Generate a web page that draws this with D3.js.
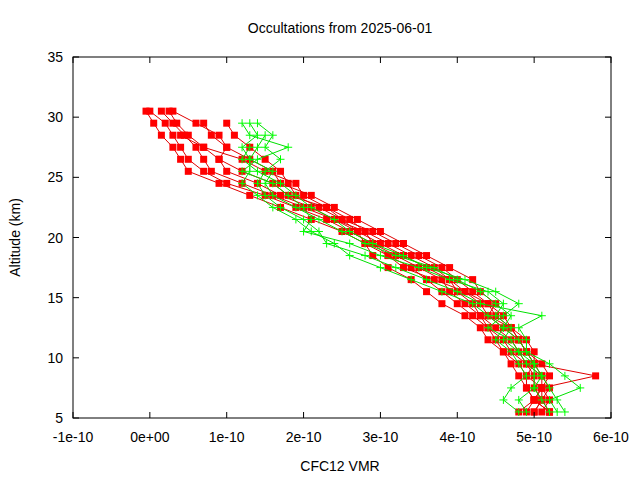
<!DOCTYPE html>
<html><head><meta charset="utf-8">
<script src="https://cdn.jsdelivr.net/npm/d3@7"></script>
<style>body{margin:0;background:#fff}text{font-family:"Liberation Sans",Arial,sans-serif;font-size:14px}</style>
</head><body><svg id="chart" width="640" height="480"></svg>
<script>
// Altitudes (km) for each profile family
var redAlt = d3.range(30.5, 5, -1);
var greenAlt = d3.range(29.5, 5, -1);

// CFC12 VMR values, units of 1e-10, listed top to bottom
var red1 = [-0.05,0.05,0.15,0.3,0.4,0.5,0.9,1.3,1.7,2.1,2.5,2.8,3.1,3.4,3.6,3.8,4.0,4.2,4.4,4.5,4.6,4.7,4.8,4.9,5.0,4.9];
var red2 = [0.0,0.2,0.3,0.4,0.5,0.7,1.0,1.5,1.9,2.3,2.6,2.9,3.2,3.5,3.8,3.9,4.1,4.3,4.4,4.6,4.7,4.9,5.0,5.0,5.1,5.0];
var red3 = [0.15,0.3,0.45,0.6,0.7,0.8,1.2,1.6,2.0,2.4,2.7,3.0,3.3,3.6,3.9,4.0,4.2,4.3,4.5,4.7,4.8,4.9,5.1,5.1,5.2,5.1];
var red4 = [0.3,0.6,0.9,1.0,0.9,1.0,1.4,1.7,2.1,2.4,2.8,3.1,3.4,3.7,3.9,4.1,4.3,4.4,4.6,4.8,4.9,5.0,5.1,5.2,5.1,5.2];
var red5 = [null,1.0,1.1,1.3,1.5,1.7,1.8,1.9,2.2,2.5,2.9,3.2,3.5,3.8,4.0,4.2,4.4,4.5,4.7,4.8,4.9,5.1,5.2,5.1,5.0,5.2];
var red6 = [null,null,0.4,0.7,1.2,1.5,1.9,2.0,2.3,2.6,2.8,2.9,3.1,3.3,3.7,4.1,4.4,4.6,4.7,4.9,5.0,5.0,5.8,5.1,5.0,5.2];
var red7 = [0.25,0.35,0.5,0.7,0.9,1.2,1.6,1.8,2.3,2.5,2.7,2.8,2.9,3.1,3.4,3.6,3.8,4.1,4.3,4.4,4.6,4.8,4.9,4.9,5.0,4.8];
var red8 = [null,0.7,0.8,1.0,1.3,1.6,1.7,2.1,2.4,2.7,3.0,3.3,3.6,3.9,4.2,4.3,4.5,4.4,4.7,4.8,4.9,5.0,4.9,5.1,5.1,5.0];

var green1 = [1.3,1.4,1.2,1.3,1.3,1.2,1.4,1.6,1.9,2.1,2.4,2.6,3.0,3.4,3.8,4.2,4.4,4.6,4.8,4.9,5.0,5.1,5.2,5.3,5.4];
var green2 = [1.4,1.6,1.5,1.7,1.5,1.4,1.5,1.7,2.0,2.2,2.3,2.8,3.2,3.6,4.0,4.3,5.1,4.8,4.9,4.9,5.2,5.4,5.6,5.2,5.3];
var green3 = [1.2,1.3,1.8,1.4,1.2,1.6,1.8,2.0,2.1,2.0,2.6,3.0,3.5,3.9,4.4,4.6,4.5,4.7,4.6,4.8,5.0,5.0,5.0,4.8,4.9];
var green4 = [null,1.5,1.4,1.3,1.6,1.5,1.6,1.9,2.2,2.5,2.8,3.2,3.7,4.0,4.3,4.5,4.7,4.6,4.5,4.7,4.8,4.9,4.7,4.6,4.8];
var green5 = [null,null,1.3,1.2,1.4,1.7,1.9,2.1,2.4,2.6,2.9,3.3,3.6,4.1,4.5,4.8,4.6,4.4,4.7,4.8,4.9,5.1,5.0,5.1,5.2];

var redSeries = [red1, red2, red3, red4, red5, red6, red7, red8];
var greenSeries = [green1, green2, green3, green4, green5];

var xTicks = [-1e-10, 0, 1e-10, 2e-10, 3e-10, 4e-10, 5e-10, 6e-10];
var xTickLabels = ['-1e-10', '0e+00', '1e-10', '2e-10', '3e-10', '4e-10', '5e-10', '6e-10'];
var yTicks = [5, 10, 15, 20, 25, 30, 35];

var margin = {top: 57, right: 29, bottom: 62, left: 73};
var width = 640, height = 480;
var svg = d3.select('#chart');
var x = d3.scaleLinear().domain([-1e-10, 6e-10]).range([margin.left, width - margin.right]);
var y = d3.scaleLinear().domain([5, 35]).range([height - margin.bottom, margin.top]);

function toPoints(vals, alts) {
  return vals.map(function (v, i) {
    return v === null ? null : {x: v * 1e-10, y: alts[i]};
  }).filter(function (d) { return d !== null; });
}

var line = d3.line().x(function (d) { return x(d.x); }).y(function (d) { return y(d.y); });

// Red profiles
redSeries.forEach(function (s) {
  var pts = toPoints(s, redAlt);
  svg.append('path').attr('d', line(pts)).attr('fill', 'none').attr('stroke', '#e00000').attr('stroke-width', 1);
  svg.selectAll(null).data(pts).enter().append('rect')
    .attr('x', function (d) { return x(d.x) - 3.5; })
    .attr('y', function (d) { return y(d.y) - 3.5; })
    .attr('width', 7).attr('height', 7).attr('fill', '#ff0000');
});

// Green profiles
greenSeries.forEach(function (s) {
  var pts = toPoints(s, greenAlt);
  svg.append('path').attr('d', line(pts)).attr('fill', 'none').attr('stroke', '#00e000').attr('stroke-width', 1);
  svg.selectAll(null).data(pts).enter().append('path')
    .attr('d', function (d) {
      var cx = x(d.x), cy = y(d.y);
      return 'M' + (cx - 4) + ',' + cy + 'H' + (cx + 4) + 'M' + cx + ',' + (cy - 4) + 'V' + (cy + 4);
    })
    .attr('stroke', '#00ff00').attr('stroke-width', 1);
});

// Frame and ticks (mirrored, inward)
var x0 = margin.left, x1 = width - margin.right, y0 = height - margin.bottom, y1 = margin.top;
svg.append('rect').attr('x', x0).attr('y', y1).attr('width', x1 - x0).attr('height', y0 - y1)
  .attr('fill', 'none').attr('stroke', '#000');
xTicks.forEach(function (t, i) {
  var px = x(t);
  svg.append('path').attr('d', 'M' + px + ',' + y0 + 'v-6M' + px + ',' + y1 + 'v6').attr('stroke', '#000');
  svg.append('text').attr('x', px).attr('y', y0 + 24).attr('text-anchor', 'middle').text(xTickLabels[i]);
});
yTicks.forEach(function (t) {
  var py = y(t);
  svg.append('path').attr('d', 'M' + x0 + ',' + py + 'h6M' + x1 + ',' + py + 'h-6').attr('stroke', '#000');
  svg.append('text').attr('x', x0 - 10).attr('y', py + 5).attr('text-anchor', 'end').text(t);
});

svg.append('text').attr('x', 340).attr('y', 33).attr('text-anchor', 'middle').text('Occultations from 2025-06-01');
svg.append('text').attr('x', 340).attr('y', 471).attr('text-anchor', 'middle').text('CFC12 VMR');
svg.append('text').attr('transform', 'translate(20,' + ((y0 + y1) / 2) + ') rotate(-90)')
  .attr('text-anchor', 'middle').text('Altitude (km)');
</script></body></html>
